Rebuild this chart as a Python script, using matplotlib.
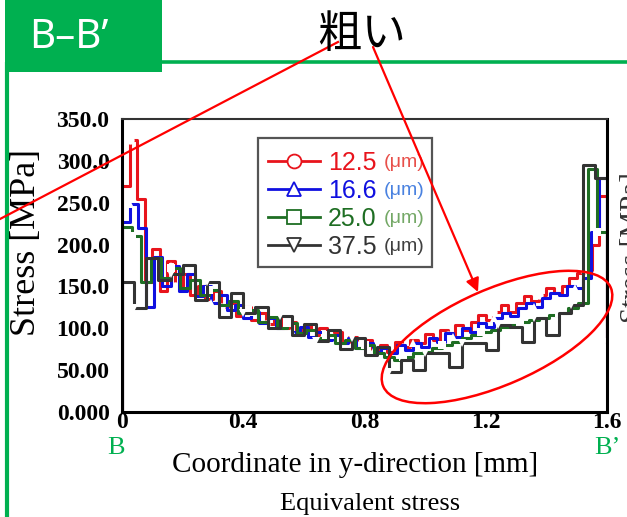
"""
B-B' section: equivalent stress along y for four mesh sizes
"""

import numpy as np
import matplotlib
matplotlib.use("Agg")
import matplotlib.pyplot as plt
from matplotlib.lines import Line2D
from matplotlib.patches import Rectangle, Ellipse


# ── Data ──────────────────────────────────────────────────────────────────────

mesh_labels = ["12.5", "16.6", "25.0", "37.5"]
mesh_colors = ["#e8141c", "#1010e0", "#1e6e23", "#333333"]
unit_colors = ["#e8504a", "#4a82e0", "#74a866", "#404040"]
mesh_markers = ["o", "^", "s", "v"]

# element values [MPa], evenly spaced along 0..1.6 mm, plus the value at the B' end
stress_125 = [270, 325, 255, 155, 195, 145, 180, 150, 165, 140, 150, 135, 145, 125, 130, 115,
              125, 110, 118, 105, 112, 100, 108, 98, 104, 92, 100, 88, 95, 84, 90, 80,
              86, 75, 80, 72, 84, 78, 86, 82, 93, 86, 98, 92, 104, 98, 108, 116,
              110, 120, 128, 120, 130, 138, 132, 140, 148, 142, 150, 160, 166, 170, 200, 258]
end_125 = 84

stress_166 = [227, 248, 220, 125, 185, 150, 175, 145, 165, 138, 150, 130, 140, 122, 128, 112,
              120, 106, 112, 100, 106, 95, 102, 90, 96, 86, 92, 82, 88, 76, 82, 72,
              76, 70, 80, 74, 82, 78, 88, 84, 94, 90, 100, 96, 106, 102, 112, 118,
              115, 124, 130, 126, 136, 142, 140, 150, 148, 160, 215, 280]
end_166 = 86

stress_250 = [221, 210, 155, 184, 160, 172, 148, 158, 140, 146, 128, 132, 118, 122, 108, 114,
              100, 106, 94, 98, 88, 92, 82, 86, 76, 80, 70, 66, 62, 66, 70, 72,
              76, 80, 84, 88, 92, 96, 98, 102, 104, 107, 110, 112, 116, 118, 124, 130,
              290, 215]
end_250 = 105

stress_375 = [155, 124, 184, 158, 165, 176, 134, 155, 113, 142, 118, 125, 100, 115, 92, 105,
              85, 98, 75, 88, 68, 78, 48, 62, 50, 70, 70, 54, 82, 82, 74, 104,
              102, 84, 112, 92, 118, 128, 295, 280]
end_375 = 84

series = [(stress_125, end_125), (stress_166, end_166),
          (stress_250, end_250), (stress_375, end_375)]
marker_every = [6, 5, 4, 3]

y_ticks = [0, 50, 100, 150, 200, 250, 300, 350]
y_tick_labels = ["0.000", "50.00", "100.0", "150.0", "200.0", "250.0", "300.0", "350.0"]
x_ticks = [0, 0.4, 0.8, 1.2, 1.6]
x_tick_labels = ["0", "0.4", "0.8", "1.2", "1.6"]

GREEN = "#00b050"
SERIF = "Liberation Serif"


def step_xy(values, end_value, length=1.6):
    """Element values -> step polyline starting from 0 at x=0."""
    edges = np.linspace(0, length, len(values) + 1)
    xs = np.concatenate([[0.0], edges])
    ys = np.concatenate([[0.0], values, [end_value]])
    return xs, ys


# ── Figure ────────────────────────────────────────────────────────────────────

fig = plt.figure(figsize=(6.27, 5.17), dpi=100)
W, H = 627, 517

ax = fig.add_axes([122 / W, 1 - 412 / H, 485 / W, 293 / H])

for (vals, end), color, mk, every in zip(series, mesh_colors, mesh_markers, marker_every):
    xs, ys = step_xy(vals, end)
    ax.plot(xs, ys, drawstyle="steps-post", color=color, linewidth=2.2, zorder=2)
    ax.plot(xs[2::every], ys[2::every], linestyle="none", marker=mk, markersize=6,
            markerfacecolor="white", markeredgewidth=0, zorder=2)

ax.set_xlim(0, 1.6)
ax.set_ylim(0, 350)
ax.set_xticks(x_ticks)
ax.set_xticklabels(x_tick_labels)
ax.set_yticks(y_ticks)
ax.set_yticklabels(y_tick_labels)
ax.tick_params(length=0)
ax.tick_params(axis="y", pad=9)
ax.tick_params(axis="x", pad=0)
for lab in ax.get_xticklabels() + ax.get_yticklabels():
    lab.set_fontfamily(SERIF)
    lab.set_fontweight("bold")
    lab.set_fontsize(17)
for side in ["left", "bottom", "right"]:
    ax.spines[side].set_linewidth(2.2)
ax.spines["top"].set_linewidth(1.5)
ax.spines["top"].set_color("#333333")

ax.set_ylabel("Stress [MPa]", fontfamily=SERIF, fontsize=26)
ax.yaxis.set_label_coords(-0.163, 0.58)

# legend: frame drawn separately so the (μm) units fit inside it
ax.add_patch(Rectangle((0.280, 0.495), 0.359, 0.440, transform=ax.transAxes,
                       facecolor="white", edgecolor="#555555", linewidth=1.6, zorder=4))
handles = [Line2D([], [], color=c, marker=m, markersize=10, markerfacecolor="white",
                  markeredgecolor=c, markeredgewidth=1.3, linewidth=2)
           for c, m in zip(mesh_colors, mesh_markers)]
leg = ax.legend(handles, mesh_labels, loc="upper left", bbox_to_anchor=(0.301, 0.891),
                frameon=False, prop={"family": "Liberation Sans", "size": 18},
                handlelength=2.1, handletextpad=0.3, labelspacing=0.16,
                borderpad=0, borderaxespad=0)
leg.set_zorder(5)
for txt, c, uc in zip(leg.get_texts(), mesh_colors, unit_colors):
    txt.set_color(c)
    ax.annotate("(μm)", xy=(1, 0.5), xycoords=txt, xytext=(5, 0),
                textcoords="offset points", ha="left", va="center",
                color=uc, fontsize=14, fontfamily="Liberation Sans", zorder=6)

# ── Slide decorations (pixel coordinates) ────────────────────────────────────

ov = fig.add_axes([0, 0, 1, 1], zorder=10)
ov.set_xlim(0, W)
ov.set_ylim(H, 0)
ov.axis("off")
ov.patch.set_alpha(0)

ov.add_patch(Rectangle((5, 0), 157, 72, facecolor=GREEN, edgecolor="none"))
ov.plot([162, W], [62, 62], color=GREEN, linewidth=2.6, solid_capstyle="butt")
ov.plot([7, 7], [62, H], color=GREEN, linewidth=3, solid_capstyle="butt")
ov.text(69, 38, "B–B’", color="white", fontsize=29, fontfamily="Noto Sans",
        ha="center", va="center")
ov.text(362, 34, "粗い", color="black", fontsize=32, fontfamily="Noto Sans CJK JP",
        ha="center", va="center")

ov.plot([0, 338], [219, 42], color="red", linewidth=1.6)
ov.annotate("", xy=(478, 292), xytext=(373, 47),
            arrowprops=dict(arrowstyle="-|>", color="red", lw=1.6, mutation_scale=20,
                            shrinkA=0, shrinkB=0))
ov.add_patch(Ellipse((497, 337), 248, 96, angle=-23.5, facecolor="none",
                     edgecolor="red", linewidth=1.8))

ov.text(116, 454, "B", color=GREEN, fontsize=19, fontfamily=SERIF, ha="center", va="baseline")
ov.text(607, 454, "B’", color=GREEN, fontsize=19, fontfamily=SERIF, ha="center", va="baseline")
ov.text(355, 465, "Coordinate in y-direction [mm]", fontsize=21, fontfamily=SERIF,
        ha="center", va="center")
ov.text(370, 504, "Equivalent stress", fontsize=19, fontfamily=SERIF,
        ha="center", va="center")
# y label of the neighbouring panel, cut by the slide edge
ov.text(620, 248, "Stress [MPa]", fontsize=21, fontfamily=SERIF, color="#333333",
        rotation=90, ha="left", va="center")

fig.savefig("out.png", dpi=100)
plt.close(fig)
